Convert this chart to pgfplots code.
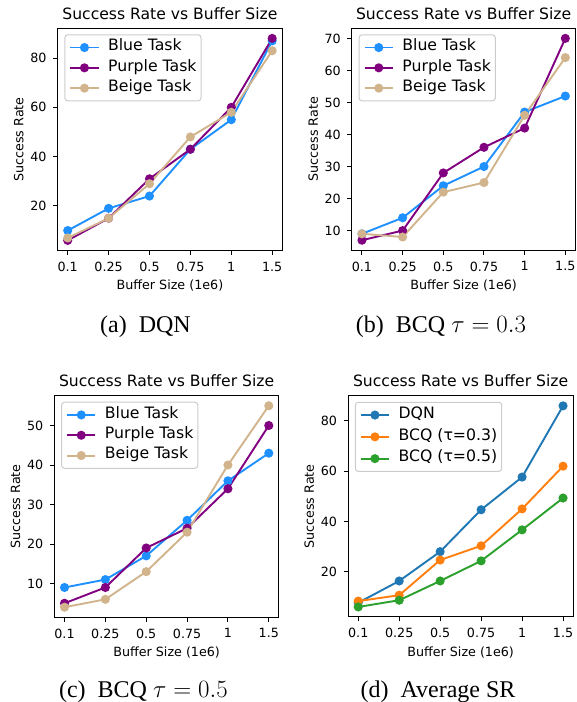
\documentclass[border=0pt]{standalone}
\usepackage{fontspec}
\setmainfont{DejaVu Sans}
\newfontfamily\capfont{Liberation Serif}
\usepackage{pgfplots}
\pgfplotsset{compat=1.18}
\definecolor{blueT}{HTML}{1E90FF}
\definecolor{purpleT}{HTML}{800080}
\definecolor{beigeT}{HTML}{D2B48C}
\definecolor{tabblue}{HTML}{1F77B4}
\definecolor{taborange}{HTML}{FF7F0E}
\definecolor{tabgreen}{HTML}{2CA02C}
\newcommand{\bfnt}{\fontsize{12.7}{15}\selectfont}
\newcommand{\lfnt}{\fontsize{15.7}{18}\selectfont}
\pgfplotsset{
  sr/.style={
    scale only axis,
    font=\bfnt,
    /pgf/number format/assume math mode=true,
    xmin=-0.25, xmax=5.25,
    xtick={0,1,2,3,4,5},
    xticklabels={0.1,0.25,0.5,0.75,1,1.5},
    tick align=outside,
    major tick length=4.5pt,
    xtick pos=bottom, ytick pos=left,
    every tick/.style={black, line width=1pt},
    axis line style={line width=1pt},
    tick label style={inner sep=0pt, font=\bfnt},
    yticklabel style={anchor=east, xshift=-6.3pt},
    xticklabel style={anchor=north, yshift=-6.7pt},
    title={Success Rate vs Buffer Size},
    xlabel={Buffer Size (1e6)},
    ylabel={Success Rate},
    every axis title/.style={at={(axis description cs:0.5,1)}, anchor=base, yshift=9pt, font=\fontsize{15.6}{18}\selectfont},
    every axis x label/.style={at={(axis description cs:0.5,0)}, anchor=base, yshift=-39pt, font=\bfnt},
    every axis y label/.style={at={(axis description cs:-0.152,0.5)}, anchor=base, rotate=90, font=\bfnt},
    every axis plot/.append style={line width=1.9pt, mark=*, mark size=3.55pt, mark options={solid}},
    legend cell align=left,
    legend image code/.code={\draw[#1, mark repeat=2, mark phase=2] plot coordinates {(0pt,0pt) (14.2pt,0pt) (28.4pt,0pt)};},
    legend style={at={(axis description cs:0,1)}, anchor=north west, xshift=6.8pt, yshift=-6pt,
      draw=black!20, line width=1pt, rounded corners=3pt, fill=white,
      inner xsep=4.5pt, inner ysep=6.5pt, row sep=7.8pt, column sep=8.5pt,
      font=\lfnt,
      nodes={inner sep=0pt, text height=9.5pt, text depth=3pt}},
  }
}
\begin{document}
\begin{tikzpicture}
\useasboundingbox (0,0) rectangle (577pt,702pt);
% (a) DQN
\begin{axis}[sr, at={(57.5pt,451.5pt)}, anchor=south west, width=224.9pt, height=222.2pt,
  ymin=1.9, ymax=92.1, ytick={20,40,60,80}]
\addplot[color=blueT] coordinates {(0,10) (1,19) (2,24) (3,43) (4,55) (5,87)};
\addlegendentry{\lfnt Blue Task}
\addplot[color=purpleT] coordinates {(0,6) (1,15) (2,31) (3,43) (4,60) (5,88)};
\addlegendentry{\lfnt Purple Task}
\addplot[color=beigeT] coordinates {(0,7) (1,15) (2,29) (3,48) (4,58) (5,83)};
\addlegendentry{\lfnt Beige Task}
\end{axis}
% (b) BCQ 0.3
\begin{axis}[sr, at={(351.8pt,451.7pt)}, anchor=south west, width=223.7pt, height=222pt,
  ymin=3.85, ymax=73.15, ytick={10,20,30,40,50,60,70}]
\addplot[color=blueT] coordinates {(0,9) (1,14) (2,24) (3,30) (4,47) (5,52)};
\addlegendentry{\lfnt Blue Task}
\addplot[color=purpleT] coordinates {(0,7) (1,10) (2,28) (3,36) (4,42) (5,70)};
\addlegendentry{\lfnt Purple Task}
\addplot[color=beigeT] coordinates {(0,9) (1,8) (2,22) (3,25) (4,46) (5,64)};
\addlegendentry{\lfnt Beige Task}
\end{axis}
% (c) BCQ 0.5
\begin{axis}[sr, at={(54.3pt,84.7pt)}, anchor=south west, width=224.7pt, height=221.6pt,
  ymin=1.45, ymax=57.55, ytick={10,20,30,40,50}]
\addplot[color=blueT] coordinates {(0,9) (1,11) (2,17) (3,26) (4,36) (5,43)};
\addlegendentry{\lfnt Blue Task}
\addplot[color=purpleT] coordinates {(0,5) (1,9) (2,19) (3,24) (4,34) (5,50)};
\addlegendentry{\lfnt Purple Task}
\addplot[color=beigeT] coordinates {(0,4) (1,6) (2,13) (3,23) (4,40) (5,55)};
\addlegendentry{\lfnt Beige Task}
\end{axis}
% (d) Average
\begin{axis}[sr, at={(348pt,85pt)}, anchor=south west, width=225.3pt, height=221.2pt,
  ymin=2, ymax=90, ytick={20,40,60,80},
  legend style={row sep=9.3pt}]
\addplot[color=tabblue] coordinates {(0,7.67) (1,16.33) (2,28) (3,44.67) (4,57.67) (5,86)};
\addlegendentry{\lfnt DQN}
\addplot[color=taborange] coordinates {(0,8.33) (1,10.67) (2,24.67) (3,30.33) (4,45) (5,62)};
\addlegendentry{\lfnt BCQ (τ=0.3)}
\addplot[color=tabgreen] coordinates {(0,6) (1,8.67) (2,16.33) (3,24.33) (4,36.67) (5,49.33)};
\addlegendentry{\lfnt BCQ (τ=0.5)}
\end{axis}
% captions
\node[anchor=base, font=\fontsize{24}{28}\selectfont\capfont] at (145.5pt,369pt) {(a)~~DQN};
\node[anchor=base, font=\fontsize{24}{28}\selectfont\capfont] at (441pt,369pt) {(b)~~BCQ $\tau=0.3$};
\node[anchor=base, font=\fontsize{24}{28}\selectfont\capfont] at (143.4pt,5pt) {(c)~~BCQ $\tau=0.5$};
\node[anchor=base, font=\fontsize{24}{28}\selectfont\capfont] at (438pt,5pt) {(d)~~Average SR};
\end{tikzpicture}
\end{document}
